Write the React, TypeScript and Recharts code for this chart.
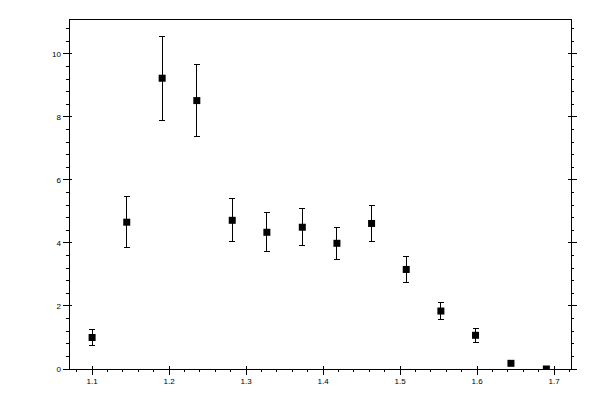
import React from "react";
import {
	ScatterChart,
	Scatter,
	XAxis,
	YAxis,
	ErrorBar,
} from "recharts";

// measured points (x, value, symmetric error)
const xValues = [1.1, 1.145, 1.191, 1.236, 1.282, 1.327, 1.373, 1.418, 1.463, 1.508, 1.553, 1.598, 1.644, 1.69];
const yValues = [1.0, 4.66, 9.23, 8.52, 4.72, 4.34, 4.5, 3.99, 4.62, 3.16, 1.84, 1.07, 0.18, 0.0];
const yErrors = [0.25, 0.8, 1.33, 1.15, 0.68, 0.62, 0.58, 0.5, 0.57, 0.42, 0.27, 0.22, null, null];

// tick labels
const xMajorTicks = [1.1, 1.2, 1.3, 1.4, 1.5, 1.6, 1.7];
const xMinorTicks = [
	1.08, 1.12, 1.14, 1.16, 1.18, 1.22, 1.24, 1.26, 1.28, 1.32, 1.34, 1.36, 1.38,
	1.42, 1.44, 1.46, 1.48, 1.52, 1.54, 1.56, 1.58, 1.62, 1.64, 1.66, 1.68, 1.72,
];
const yMajorTicks = [0, 2, 4, 6, 8, 10];
const yMinorTicks = [
	0.4, 0.8, 1.2, 1.6, 2.4, 2.8, 3.2, 3.6, 4.4, 4.8, 5.2, 5.6, 6.4, 6.8, 7.2, 7.6,
	8.4, 8.8, 9.2, 9.6, 10.4, 10.8,
];

const data = xValues.map((x, i) => ({ x, y: yValues[i], err: yErrors[i] }));

const xTicks = [...xMajorTicks, ...xMinorTicks].sort((a, b) => a - b);
const yTicks = [...yMajorTicks, ...yMinorTicks].sort((a, b) => a - b);

const isMajor = (v: number, list: number[]) =>
	list.some((m) => Math.abs(m - v) < 1e-6);

const FONT = "'Liberation Sans', Arial, sans-serif";

// side: which way is "outside" of the plot box
function makeTick(side: "bottom" | "top" | "left" | "right", majors: number[], showLabel: boolean) {
	return (props: any) => {
		const { x, y, payload } = props;
		const major = isMajor(payload.value, majors);
		const out = major ? 6 : 3;
		const inn = major ? 3 : 0;
		let line;
		let label = null;
		if (side === "bottom" || side === "top") {
			const s = side === "bottom" ? 1 : -1;
			line = <line x1={x} x2={x} y1={y - s * inn} y2={y + s * out} stroke="#000" shapeRendering="crispEdges" />;
			if (showLabel && major)
				label = (
					<text x={x} y={y + 15} textAnchor="middle" fontSize={8} fontFamily={FONT} fill="#000">
						{payload.value.toFixed(1)}
					</text>
				);
		} else {
			const s = side === "right" ? 1 : -1;
			line = <line y1={y} y2={y} x1={x - s * inn} x2={x + s * out} stroke="#000" shapeRendering="crispEdges" />;
			if (showLabel && major)
				label = (
					<text x={x - 8} y={y + 3} textAnchor="end" fontSize={8} fontFamily={FONT} fill="#000">
						{payload.value}
					</text>
				);
		}
		return (
			<g>
				{line}
				{label}
			</g>
		);
	};
}

const SquareMark = (props: any) => {
	const { cx, cy } = props;
	return <rect x={cx - 3.5} y={cy - 3.5} width={7} height={7} fill="#000" />;
};

export default function App() {
	const axisLine = { stroke: "#000", shapeRendering: "crispEdges" };
	return (
		<div style={{ position: "absolute", left: 0, top: 0, width: 600, height: 400, background: "#fff" }}>
			<ScatterChart width={600} height={400} margin={{ top: 0, right: 0, bottom: 0, left: 0 }}>
				<XAxis
					xAxisId="b"
					type="number"
					dataKey="x"
					orientation="bottom"
					domain={[1.07, 1.722]}
					ticks={xTicks}
					interval={0}
					height={31}
					tickSize={0}
					tickMargin={0}
					tickLine={false}
					axisLine={axisLine}
					tick={makeTick("bottom", xMajorTicks, true)}
					allowDataOverflow
				/>
				<XAxis
					xAxisId="t"
					type="number"
					orientation="top"
					domain={[1.07, 1.722]}
					ticks={xTicks}
					interval={0}
					height={19}
					tickSize={0}
					tickMargin={0}
					tickLine={false}
					axisLine={axisLine}
					tick={makeTick("top", xMajorTicks, false)}
					allowDataOverflow
				/>
				<YAxis
					yAxisId="l"
					type="number"
					dataKey="y"
					orientation="left"
					domain={[0, 11.11]}
					ticks={yTicks}
					interval={0}
					width={69}
					tickSize={0}
					tickMargin={0}
					tickLine={false}
					axisLine={axisLine}
					tick={makeTick("left", yMajorTicks, true)}
					allowDataOverflow
				/>
				<YAxis
					yAxisId="r"
					type="number"
					orientation="right"
					domain={[0, 11.11]}
					ticks={yTicks}
					interval={0}
					width={29}
					tickSize={0}
					tickMargin={0}
					tickLine={false}
					axisLine={axisLine}
					tick={makeTick("right", yMajorTicks, false)}
					allowDataOverflow
				/>
				<Scatter
					xAxisId="b"
					yAxisId="l"
					data={data}
					fill="#000"
					shape={SquareMark}
					isAnimationActive={false}
				>
					<ErrorBar
						dataKey="err"
						direction="y"
						width={3}
						stroke="#000"
						strokeWidth={1}
						shapeRendering="crispEdges"
						isAnimationActive={false}
					/>
				</Scatter>
			</ScatterChart>
		</div>
	);
}
